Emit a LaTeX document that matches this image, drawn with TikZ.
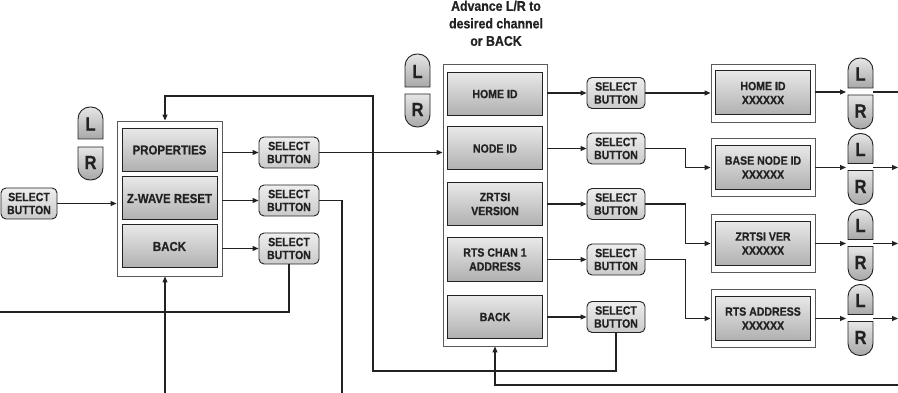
\documentclass[tikz,border=0pt]{standalone}
\usepackage{fontspec}
\newfontfamily\labfont[FakeStretch=0.88, BoldFeatures={FakeBold=0.6}]{Liberation Sans}
\usetikzlibrary{arrows.meta}

\definecolor{ink}{HTML}{222222}
\definecolor{frame}{HTML}{5A5A5A}
\definecolor{boxtop}{HTML}{E8E8E8}
\definecolor{boxbot}{HTML}{B0B0B0}
\definecolor{btntop}{HTML}{EEEEEE}
\definecolor{btnbot}{HTML}{CACACA}
\definecolor{keytop}{HTML}{E6E6E6}
\definecolor{keybot}{HTML}{A8A8A8}

\tikzset{
  conn/.style={draw=ink, line width=1.1pt},
  arr/.style={conn, -{Triangle[length=6pt,width=5pt]}},
  panel/.style={draw=frame, line width=0.9pt, fill=white, inner sep=0pt},
  menu/.style={draw=ink, line width=1pt, top color=boxtop, bottom color=boxbot,
    minimum width=95pt, minimum height=43pt, inner sep=0pt, align=center,
    font=\labfont\bfseries\fontsize{12}{14}\selectfont, text=ink},
  bigmenu/.style={menu, font=\labfont\bfseries\fontsize{13}{15}\selectfont},
  selbtn/.style={draw=ink, line width=0.9pt, rounded corners=5pt,
    top color=btntop, bottom color=btnbot, minimum width=58pt, minimum height=31pt,
    inner sep=0pt, align=center, font=\labfont\bfseries\fontsize{12}{13}\selectfont, text=ink},
  keyshape/.style={draw=ink, line width=0.9pt, top color=keytop, bottom color=keybot},
  keytext/.style={font=\labfont\bfseries\fontsize{19}{19}\selectfont, text=ink, inner sep=0pt},
  titletext/.style={align=center, inner sep=0pt, text=ink,
    font=\labfont\bfseries\fontsize{14}{17.5}\selectfont},
}

% key with a rounded top: name, left x, top y, height
\newcommand\drawkeyL[4]{%
  \path[keyshape] (#2,#3+#4) [rounded corners=12pt] -- (#2,#3) -- (#2+25,#3)
    [sharp corners] -- (#2+25,#3+#4) -- cycle;
  \node[keytext] (#1) at (#2+12.5,#3+#4/2+1) {L};
}
% key with a rounded bottom: name, left x, top y, height
\newcommand\drawkeyR[4]{%
  \path[keyshape] (#2,#3) [rounded corners=12pt] -- (#2,#3+#4) -- (#2+25,#3+#4)
    [sharp corners] -- (#2+25,#3) -- cycle;
  \node[keytext] (#1) at (#2+12.5,#3+#4/2-1) {R};
}

\begin{document}
\begin{tikzpicture}[x=1pt, y=-1pt]
  \fill[white] (0,0) rectangle (898,393);
  \useasboundingbox (0,0) rectangle (898,393);

  % ---------- main menu ----------
  \node[selbtn, minimum width=56pt] (sel0) at (29,203.5) {SELECT\\BUTTON};

  \node[panel, minimum width=105pt, minimum height=155pt] (lp) at (169.5,198.5) {};
  \node[bigmenu] (prop)  at (169.5,150)   {PROPERTIES};
  \node[bigmenu] (zw)    at (169.5,198.5) {Z-WAVE RESET};
  \node[bigmenu] (back1) at (169.5,246.5) {BACK};

  \drawkeyL{lpL}{78}{107}{32}
  \drawkeyR{lpR}{78}{147}{33}

  \node[selbtn, minimum width=60pt] (sa1) at (289,152.5) {SELECT\\BUTTON};
  \node[selbtn, minimum width=60pt] (sa2) at (289,200.5) {SELECT\\BUTTON};
  \node[selbtn, minimum width=60pt] (sa3) at (289,248.5) {SELECT\\BUTTON};

  % ---------- properties menu ----------
  \node[titletext, anchor=north] (ttl) at (496,0.5) {Advance L/R to\\desired channel\\or BACK};

  \node[panel, minimum width=104pt, minimum height=282pt] (rp) at (495,205) {};
  \node[menu] (home)  at (495,94)    {HOME ID};
  \node[menu] (nid)   at (495,148.5) {NODE ID};
  \node[menu] (zver)  at (495,204)   {ZRTSI\\VERSION};
  \node[menu] (rts)   at (495,259.5) {RTS CHAN 1\\ADDRESS};
  \node[menu] (back2) at (495,317)   {BACK};

  \drawkeyL{rpL}{405}{54}{33}
  \drawkeyR{rpR}{405}{94}{33}

  \node[selbtn] (sb1) at (616,93)    {SELECT\\BUTTON};
  \node[selbtn] (sb2) at (616,148.5) {SELECT\\BUTTON};
  \node[selbtn] (sb3) at (616,204)   {SELECT\\BUTTON};
  \node[selbtn] (sb4) at (616,259.5) {SELECT\\BUTTON};
  \node[selbtn] (sb5) at (616,317)   {SELECT\\BUTTON};

  % ---------- value displays ----------
  \foreach \nm/\yy/\txt in {res1/93/{HOME ID\\XXXXXX},
                            res2/167.5/{BASE NODE ID\\XXXXXX},
                            res3/243.5/{ZRTSI VER\\XXXXXX},
                            res4/318.5/{RTS ADDRESS\\XXXXXX}}{
    \node[panel, minimum width=104pt, minimum height=58pt] (\nm) at (763,\yy) {};
    \node[menu, minimum width=95pt, minimum height=44pt] (\nm-in) at (763,\yy) {\txt};
  }

  % L/R keys after each display
  \drawkeyL{kL1}{848}{58}{30}      \drawkeyR{kR1}{848}{95}{34}
  \drawkeyL{kL2}{848}{133.5}{30}   \drawkeyR{kR2}{848}{170.5}{34}
  \drawkeyL{kL3}{848}{209.5}{30}   \drawkeyR{kR3}{848}{246.5}{34}
  \drawkeyL{kL4}{848}{284.5}{30}   \drawkeyR{kR4}{848}{321.5}{34}

  \foreach \i/\yy in {1/92, 2/167.5, 3/243.5, 4/318.5}{
    \coordinate (kin\i)  at (846,\yy);
    \coordinate (kout\i) at (873,\yy);
    \coordinate (kend\i) at (898,\yy);
  }

  % ---------- free ends and bends ----------
  \coordinate (b1) at (165,393);
  \coordinate (b2) at (342,393);
  \coordinate (w1) at (0,312);
  \coordinate (rt1) at (373,371);
  \coordinate (rt2) at (373,96);
  \coordinate (rt3) at (165,96);
  \coordinate (e1) at (898,385);

  % ---------- connectors ----------
  \draw[arr] (sel0.east) -- (lp.west |- sel0);
  \draw[arr] (lp.east |- sa1) -- (sa1.west);
  \draw[arr] (lp.east |- sa2) -- (sa2.west);
  \draw[arr] (lp.east |- sa3) -- (sa3.west);

  \draw[arr] (sa1.east) -- (rp.west |- sa1);
  \draw[conn] (sa2.east) -| (b2);
  \draw[conn] (sa3.south) |- (w1);
  \draw[arr] (b1) -- (b1 |- lp.south);

  \draw[arr] (rp.east |- sb1) -- (sb1.west);
  \draw[arr] (rp.east |- sb2) -- (sb2.west);
  \draw[arr] (rp.east |- sb3) -- (sb3.west);
  \draw[arr] (rp.east |- sb4) -- (sb4.west);
  \draw[arr] (rp.east |- sb5) -- (sb5.west);

  \draw[arr] (sb1.east) -- (res1.west);
  \draw[arr] (sb2.east) -- ++(40,0) |- (res2.west);
  \draw[arr] (sb3.east) -- ++(40,0) |- (res3.west);
  \draw[arr] (sb4.east) -- ++(40,0) |- (res4.west);

  \draw[arr] (sb5.south) |- (rt1) -- (rt2) -- (rt3) -- (rt3 |- lp.north);
  \draw[arr] (e1) -| (rp.south);

  \foreach \i in {1,2,3,4}{
    \draw[arr] (res\i.east |- kin\i) -- (kin\i);
  }
  \draw[conn] (kout1) -- (kend1);
  \draw[arr] (kout2) -- (kend2);
  \draw[arr] (kout3) -- (kend3);
  \draw[arr] (kout4) -- (kend4);
\end{tikzpicture}
\end{document}
